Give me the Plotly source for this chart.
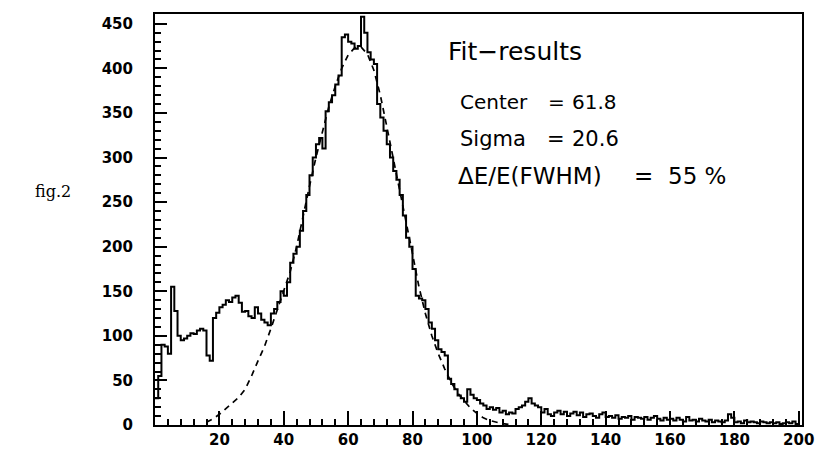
import numpy as np
import plotly.graph_objects as go

# histogram counts, one per unit-width bin from 0 to 200
counts = [
    30, 55, 90, 88, 80, 155, 128, 100, 95, 97,
    100, 103, 102, 106, 108, 106, 78, 72, 120, 126,
    132, 135, 140, 138, 143, 145, 137, 127, 128, 122,
    120, 132, 125, 118, 115, 112, 125, 130, 138, 150,
    145, 160, 182, 192, 200, 218, 240, 258, 280, 300,
    315, 322, 310, 352, 362, 370, 382, 392, 435, 438,
    430, 428, 422, 425, 458, 440, 418, 410, 405, 360,
    345, 330, 315, 300, 285, 275, 258, 235, 210, 200,
    175, 145, 142, 140, 130, 115, 108, 95, 85, 82,
    78, 52, 46, 40, 33, 30, 26, 40, 34, 30,
    28, 24, 22, 18, 20, 17, 19, 14, 16, 12,
    14, 13, 18, 20, 22, 26, 30, 24, 22, 20,
    14, 18, 12, 10, 14, 16, 12, 15, 10, 13,
    15, 11, 14, 9, 12, 13, 10, 8, 12, 14,
    9, 10, 8, 11, 7, 9, 8, 10, 6, 9,
    8, 7, 9, 6, 8, 10, 7, 5, 8, 6,
    7, 5, 8, 6, 4, 9, 5, 6, 4, 7,
    5, 4, 6, 3, 5, 4, 3, 5, 12, 8,
    3, 4, 2, 5, 3, 4, 3, 2, 4, 3,
    2, 3, 2, 3, 1, 2, 3, 2, 4, 1,
]

# dashed fit curve
fit_x = [16, 18, 20, 22, 24, 26, 28, 30, 32, 34, 36, 38, 40, 42, 44, 46, 48,
         50, 52, 54, 56, 58, 60, 62, 64, 66, 68, 70, 72, 74, 76, 78, 80, 82,
         84, 86, 88, 90, 92, 94, 96, 98, 100, 102, 104, 106, 108, 110]
fit_y = [3, 7, 12, 18, 24, 31, 40, 55, 72, 88, 108, 130, 150, 172, 200, 236, 268,
         300, 330, 357, 380, 400, 415, 423, 424, 416, 398, 370, 335, 300, 265, 228, 192, 155,
         125, 100, 80, 63, 48, 36, 27, 19, 13, 8, 5, 3, 1.5, 0.5]

x_ticks = [20, 40, 60, 80, 100, 120, 140, 160, 180, 200]
y_ticks = [0, 50, 100, 150, 200, 250, 300, 350, 400, 450]

fit_title = "Fit−results"
fit_names = ["Center", "Sigma", "ΔE/E(FWHM)"]
fit_values = ["61.8", "20.6", "55 %"]

edges = np.arange(len(counts) + 1)
hist_y = counts + [counts[-1]]

fig = go.Figure()
fig.add_trace(go.Scatter(
    x=edges, y=hist_y, mode="lines",
    line=dict(color="black", width=2, shape="hv"),
    showlegend=False,
))
fig.add_trace(go.Scatter(
    x=fit_x, y=fit_y, mode="lines",
    line=dict(color="black", width=1.7, dash="6px,5px"),
    showlegend=False,
))

font_main = "DejaVu Sans"


def label(x, y, text, size, anchor="left"):
    fig.add_annotation(x=x, y=y, xref="paper", yref="paper", text=text,
                       showarrow=False, xanchor=anchor, yanchor="middle",
                       font=dict(family=font_main, size=size, color="black"))


label(0.449, 0.908, fit_title, 25)
# (name x, equals x, value x, row y, font size)
rows = [(0.468, 0.620, 0.642, 0.787, 20),
        (0.468, 0.620, 0.642, 0.697, 21),
        (0.465, 0.755, 0.790, 0.605, 23)]
for name, val, (xn, xe, xv, yy, sz) in zip(fit_names, fit_values, rows):
    label(xn, yy, name, sz)
    label(xe, yy, "=", sz, anchor="center")
    label(xv, yy, val, sz)

fig.add_annotation(x=-0.158, y=0.569, xref="paper", yref="paper", text="fig.2",
                   showarrow=False, xanchor="center", yanchor="middle",
                   font=dict(family="DejaVu Serif", size=16, color="black"))

axis_font = dict(family="DejaVu Sans", size=15, color="black", weight="bold")

fig.update_xaxes(
    range=[0, 201], showgrid=False, zeroline=False,
    showline=True, linecolor="black", linewidth=2, mirror=True,
    ticks="inside", ticklen=14, tickwidth=2, tickcolor="black",
    tickvals=x_ticks, ticktext=[str(v) for v in x_ticks],
    tickfont=axis_font,
    minor=dict(ticks="inside", ticklen=6, tickwidth=1.5, tickcolor="black", dtick=4, showgrid=False),
)
fig.update_yaxes(
    range=[0, 461], showgrid=False, zeroline=False,
    showline=True, linecolor="black", linewidth=2, mirror=True,
    ticks="inside", ticklen=12, tickwidth=2, tickcolor="black",
    tickvals=y_ticks, ticktext=[str(v) for v in y_ticks],
    tickfont=axis_font, ticklabelstandoff=17,
    minor=dict(ticks="inside", ticklen=6, tickwidth=1.5, tickcolor="black", dtick=10, showgrid=False),
)

# page body has an 8px default margin, so shrink the figure to fit the window
fig.update_layout(
    width=817, height=451,
    paper_bgcolor="white", plot_bgcolor="white",
    margin=dict(l=147, r=23, t=4, b=34),
)

fig.write_html("out.html")
